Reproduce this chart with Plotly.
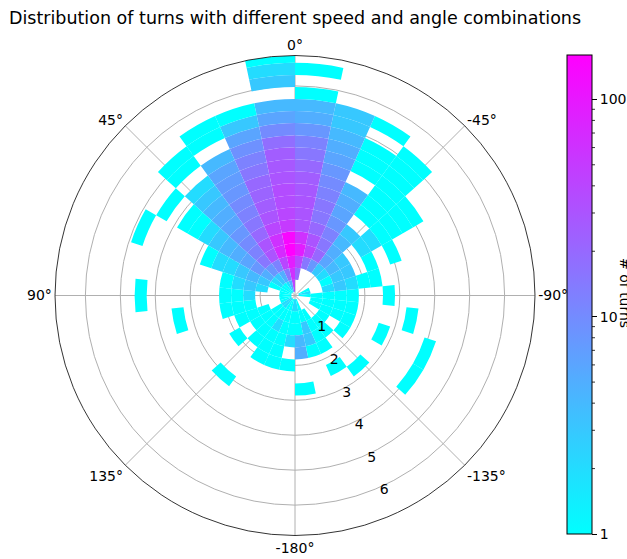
import numpy as np
import plotly.graph_objects as go

# ---- data ----
# angle bins of 12 degrees from -180 to 180, speed bins of width 0.345
angle_edges = list(range(-180, 181, 12))
speed_edges = [round(0.105 + 0.345 * k, 3) for k in range(21)]
r_max = 6.87

# counts[j][k]: angle bin j (from -180), speed bin k (from slowest)
counts = [
    [2, 1, 1, 4, 5, 0, 0, 1, 0, 0, 0, 0, 0, 0, 0, 0, 0, 0, 0, 0],   # -180..-168
    [1, 1, 3, 3, 1, 0, 0, 0, 0, 0, 0, 0, 0, 0, 0, 0, 0, 0, 0, 0],   # -168..-156
    [0, 1, 1, 1, 1, 0, 1, 0, 0, 0, 0, 0, 0, 0, 0, 0, 0, 0, 0, 0],   # -156..-144
    [0, 0, 1, 1, 0, 0, 0, 1, 0, 0, 0, 0, 0, 0, 0, 0, 0, 0, 0, 0],   # -144..-132
    [0, 0, 1, 0, 1, 0, 0, 0, 0, 0, 0, 1, 0, 0, 0, 0, 0, 0, 0, 0],   # -132..-120
    [0, 1, 1, 1, 1, 0, 0, 1, 0, 0, 0, 1, 0, 0, 0, 0, 0, 0, 0, 0],   # -120..-108
    [0, 1, 1, 1, 1, 0, 0, 0, 0, 1, 0, 0, 0, 0, 0, 0, 0, 0, 0, 0],   # -108..-96
    [1, 1, 1, 1, 1, 0, 0, 1, 0, 0, 0, 0, 0, 0, 0, 0, 0, 0, 0, 0],   # -96..-84
    [2, 0, 2, 3, 2, 1, 1, 0, 0, 0, 0, 0, 0, 0, 0, 0, 0, 0, 0, 0],   # -84..-72
    [1, 0, 1, 3, 3, 0, 1, 0, 1, 0, 0, 0, 0, 0, 0, 0, 0, 0, 0, 0],   # -72..-60
    [0, 0, 2, 4, 3, 0, 2, 2, 1, 1, 1, 1, 0, 0, 0, 0, 0, 0, 0, 0],   # -60..-48
    [0, 0, 3, 6, 5, 4, 3, 0, 1, 1, 1, 1, 1, 1, 1, 0, 0, 0, 0, 0],   # -48..-36
    [0, 0, 8, 20, 15, 12, 8, 6, 5, 4, 0, 1, 1, 1, 0, 1, 0, 0, 0, 0],  # -36..-24
    [0, 0, 15, 40, 30, 20, 15, 15, 12, 10, 8, 6, 5, 4, 3, 3, 0, 0, 0, 0],  # -24..-12
    [0, 20, 40, 90, 60, 30, 30, 30, 28, 25, 20, 15, 12, 8, 5, 4, 1, 0, 1, 0],  # -12..0
    [40, 60, 90, 160, 140, 50, 40, 35, 35, 30, 28, 25, 18, 10, 6, 4, 0, 3, 2, 1],  # 0..12
    [5, 15, 40, 70, 60, 40, 30, 25, 22, 20, 15, 12, 9, 6, 3, 1, 0, 0, 0, 0],  # 12..24
    [2, 5, 12, 30, 30, 20, 15, 12, 10, 8, 7, 6, 4, 0, 1, 1, 0, 0, 0, 0],  # 24..36
    [1, 3, 8, 15, 12, 10, 8, 6, 5, 4, 3, 2, 0, 1, 1, 0, 0, 0, 0, 0],   # 36..48
    [1, 2, 5, 8, 6, 5, 4, 3, 2, 1, 1, 0, 1, 0, 0, 0, 0, 0, 0, 0],     # 48..60
    [1, 1, 3, 4, 3, 2, 2, 1, 0, 0, 0, 0, 0, 1, 0, 0, 0, 0, 0, 0],     # 60..72
    [1, 0, 2, 3, 2, 1, 0, 0, 0, 0, 0, 0, 0, 0, 0, 0, 0, 0, 0, 0],     # 72..84
    [1, 0, 0, 2, 1, 1, 0, 0, 0, 0, 0, 0, 1, 0, 0, 0, 0, 0, 0, 0],     # 84..96
    [1, 0, 0, 1, 1, 1, 0, 0, 0, 1, 0, 0, 0, 0, 0, 0, 0, 0, 0, 0],     # 96..108
    [1, 0, 1, 1, 1, 0, 0, 0, 0, 0, 0, 0, 0, 0, 0, 0, 0, 0, 0, 0],     # 108..120
    [2, 1, 1, 1, 0, 1, 0, 0, 0, 0, 0, 0, 0, 0, 0, 0, 0, 0, 0, 0],     # 120..132
    [2, 1, 1, 1, 1, 0, 0, 0, 1, 0, 0, 0, 0, 0, 0, 0, 0, 0, 0, 0],     # 132..144
    [1, 1, 2, 1, 1, 1, 0, 0, 0, 0, 0, 0, 0, 0, 0, 0, 0, 0, 0, 0],     # 144..156
    [1, 1, 1, 1, 1, 1, 0, 0, 0, 0, 0, 0, 0, 0, 0, 0, 0, 0, 0, 0],     # 156..168
    [2, 1, 1, 2, 0, 1, 0, 0, 0, 0, 0, 0, 0, 0, 0, 0, 0, 0, 0, 0],     # 168..180
]

angle_ticks = [0, 45, 90, 135, 180, 225, 270, 315]
angle_labels = ["0°", "45°", "90°", "135°", "-180°", "-135°", "-90°", "-45°"]
radial_ticks = [1, 2, 3, 4, 5, 6]
cbar_ticks = [1, 10, 100]

# ---- build cells ----
thetas, bases, heights, widths, colors, texts = [], [], [], [], [], []
for j, row in enumerate(counts):
    a0, a1 = angle_edges[j], angle_edges[j + 1]
    for k, c in enumerate(row):
        if c <= 0:
            continue
        r0 = speed_edges[k]
        r1 = min(speed_edges[k + 1], r_max)
        if r0 >= r_max:
            continue
        thetas.append((a0 + a1) / 2)
        widths.append(a1 - a0)
        bases.append(r0)
        heights.append(r1 - r0)
        colors.append(np.log10(c))
        texts.append(str(c))

cmax = float(np.log10(max(max(r) for r in counts)))
cool = [[0.0, "rgb(0,255,255)"], [1.0, "rgb(255,0,255)"]]

W, H = 627, 559
cb_left, cb_top, cb_bottom, cb_thick = 567, 55, 534, 25
cb_len = cb_bottom - cb_top

fig = go.Figure()
fig.add_trace(go.Barpolar(
    theta=thetas, r=heights, base=bases, width=widths,
    text=texts,
    marker=dict(
        color=colors, colorscale=cool, cmin=0, cmax=cmax,
        line=dict(width=0),
        colorbar=dict(
            thickness=cb_thick, thicknessmode="pixels",
            len=cb_len, lenmode="pixels",
            x=cb_left / W, xanchor="left", xpad=0,
            y=1 - (cb_top + cb_bottom) / 2 / H, yanchor="middle", ypad=0,
            outlinewidth=1, outlinecolor="black",
            tickvals=[np.log10(v) for v in cbar_ticks],
            ticktext=[str(v) for v in cbar_ticks],
            ticks="outside", ticklen=5, tickwidth=1, tickcolor="black",
            tickfont=dict(family="DejaVu Sans", size=14, color="black"),
        ),
    ),
    opacity=1,
    hovertemplate="%{text}<extra></extra>",
))

# minor colorbar ticks (log)
shapes = []
for dec in [1, 10, 100]:
    for m in range(2, 10):
        v = np.log10(dec * m)
        if v >= cmax:
            continue
        py = cb_bottom - v / cmax * cb_len
        shapes.append(dict(type="line", xref="paper", yref="paper",
                           x0=(cb_left + cb_thick) / W, x1=(cb_left + cb_thick + 3) / W,
                           y0=1 - py / H, y1=1 - py / H,
                           line=dict(color="black", width=0.8)))

cx, cy, R = 295, 295.5, 240
fig.update_layout(
    width=W, height=H,
    margin=dict(l=0, r=0, t=0, b=0, autoexpand=False),
    paper_bgcolor="white", plot_bgcolor="white",
    font=dict(family="DejaVu Sans", size=14, color="black"),
    title=dict(text="Distribution of turns with different speed and angle combinations",
               x=cx / W, xanchor="center", y=1 - 18 / H, yanchor="middle",
               font=dict(family="DejaVu Sans", size=17.5, color="black")),
    polar=dict(
        domain=dict(x=[(cx - R) / W, (cx + R) / W], y=[1 - (cy + R) / H, 1 - (cy - R) / H]),
        bgcolor="white",
        barmode="overlay",
        angularaxis=dict(
            rotation=90, direction="counterclockwise",
            tickmode="array", tickvals=angle_ticks, ticktext=angle_labels,
            showgrid=True, gridcolor="#b0b0b0", gridwidth=0.8,
            showline=True, linecolor="black", linewidth=0.8,
            ticks="", layer="above traces",
            tickfont=dict(family="DejaVu Sans", size=14, color="black"),
        ),
        radialaxis=dict(
            range=[0, r_max], angle=-69, side="counterclockwise",
            tickmode="array", tickvals=radial_ticks, ticktext=[str(v) for v in radial_ticks],
            showgrid=True, gridcolor="#b0b0b0", gridwidth=0.8,
            showline=False, ticks="", layer="above traces",
            tickangle=-69,
            tickfont=dict(family="DejaVu Sans", size=14, color="black"),
        ),
    ),
    shapes=shapes,
    annotations=[dict(text="# of turns", xref="paper", yref="paper",
                      x=625 / W, y=1 - 293 / H, xanchor="center", yanchor="middle",
                      textangle=90, showarrow=False,
                      font=dict(family="DejaVu Sans", size=14, color="black"))],
)

fig.write_html("out.html", config={"displayModeBar": False},
               post_script="document.body.style.margin='0px';document.body.style.overflow='hidden';")
